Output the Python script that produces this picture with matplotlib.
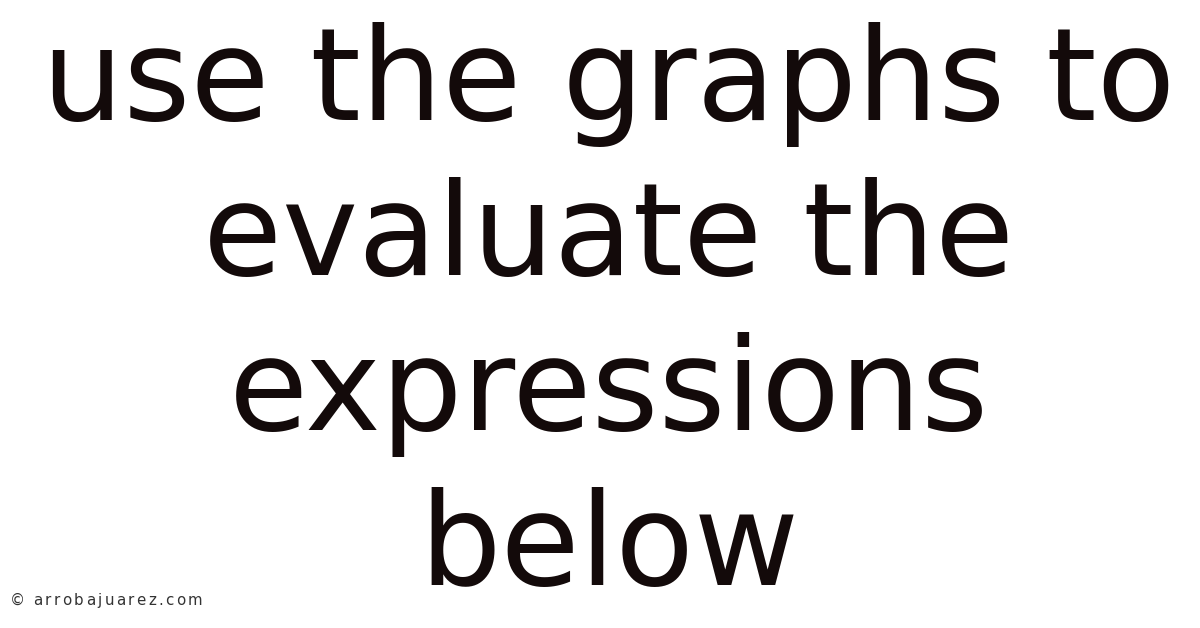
import matplotlib
matplotlib.use("Agg")
import matplotlib.pyplot as plt

# text content of the card
title_lines = ["use the graphs to", "evaluate the", "expressions", "below"]
baselines_px = [120, 275, 430, 585]
watermark = "© arrobajuarez.com"

W, H = 1200, 628
fig = plt.figure(figsize=(W / 100, H / 100), dpi=100)
fig.patch.set_facecolor("white")

for line, y in zip(title_lines, baselines_px):
    fig.text(0.5 + 9 / W, 1 - y / H, line, ha="center", va="baseline",
             fontsize=92.5, color="#130a0a", family="DejaVu Sans")

# watermark with letter spacing, drawn char by char
renderer = fig.canvas.get_renderer()
x = 10.0
tracking = 2.4
for ch in watermark:
    t = fig.text(x / W, 1 - 605 / H, ch, ha="left", va="baseline",
                 fontsize=10.8, color="#333333", family="DejaVu Sans")
    w = t.get_window_extent(renderer).width if ch != " " else 3.4
    x += w + tracking

fig.savefig("out.png", dpi=100, facecolor="white")
plt.close(fig)
